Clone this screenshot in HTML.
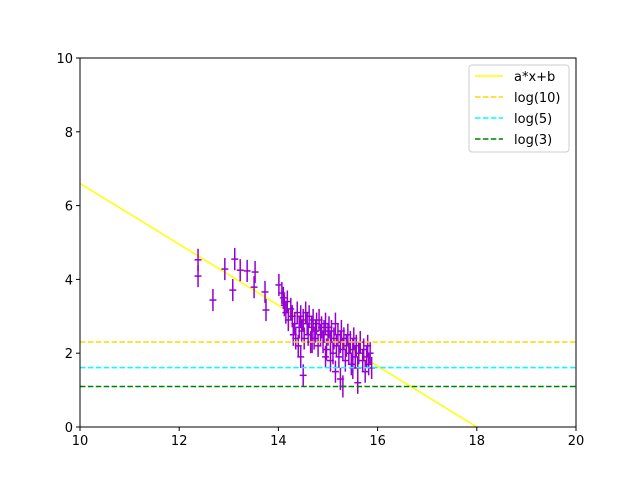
<!DOCTYPE html>
<html><head><meta charset="utf-8"><style>
body{margin:0;background:#fff;}
svg text{font-family:"DejaVu Sans","Liberation Sans",sans-serif;font-size:13px;fill:#000;}
</style></head><body>
<svg id="chart" width="640" height="480" xmlns="http://www.w3.org/2000/svg">
<rect width="640" height="480" fill="#fff"/>
<g id="plot"></g>
<g id="axes"></g>
<g id="legend"></g>
</svg>
<script>
const xTicks=[10,12,14,16,18,20];
const yTicks=[0,2,4,6,8,10];
const slopeA=-0.825, interceptB=14.85;
const hLines=[Math.log(10),Math.log(5),Math.log(3)];
const hLabels=["log(10)","log(5)","log(3)"];
const hColors=["#ffd700","#00ffff","#008000"];
const ptX=[12.38,12.38,12.68,12.92,13.12,13.08,13.23,13.37,13.53,13.51,13.73,13.75,14.01,14.07,
14.1,14.12,14.15,14.18,14.2,14.25,14.28,14.3,14.33,14.35,14.38,14.4,14.42,14.45,14.47,14.5,
14.52,14.55,14.58,14.6,14.62,14.65,14.67,14.7,14.72,14.75,14.77,14.8,14.82,14.85,14.87,14.9,
14.92,14.95,14.97,15.0,15.02,15.05,15.07,15.1,15.12,15.15,15.17,15.2,15.22,15.25,15.27,15.3,
15.32,15.35,15.37,15.4,15.42,15.45,15.47,15.5,15.52,15.55,15.57,15.6,15.62,15.65,15.7,15.72,
15.75,15.78,15.8,15.82,15.85,15.88,14.45,14.5,14.95,15.15,15.25,15.5,15.6,15.3,14.68,15.05];
const ptY=[4.53,4.09,3.44,4.28,4.55,3.71,4.25,4.23,4.2,3.79,3.66,3.17,3.85,3.63,
3.5,3.3,3.1,3.4,2.9,3.2,3.0,2.5,2.8,2.4,3.1,2.2,2.7,3.0,2.6,2.9,
2.4,3.1,2.8,2.5,3.0,2.3,2.7,2.9,2.4,2.6,2.8,2.2,2.9,2.5,2.7,2.3,
2.6,2.8,2.1,2.5,2.7,2.3,2.6,2.0,2.4,2.8,2.2,2.5,1.9,2.3,2.6,2.1,
2.4,1.8,2.2,2.5,2.0,2.3,1.7,2.1,2.4,1.9,2.2,1.6,2.0,2.3,1.8,2.1,
1.5,1.9,2.2,1.7,2.0,1.6,1.9,1.4,1.9,1.5,1.3,1.6,1.2,1.1,2.3,1.8];
const yErr=0.3, xErr=0.07;
const L=80,R=576,T=58,B=427;
const sx=v=>L+(v-10)/10*(R-L), sy=v=>B-(v/10)*(B-T);
const NS="http://www.w3.org/2000/svg";
function mk(tag,attrs,parent){const e=document.createElementNS(NS,tag);for(const k in attrs)e.setAttribute(k,attrs[k]);parent.appendChild(e);return e;}
const plot=document.getElementById('plot'),axes=document.getElementById('axes'),leg=document.getElementById('legend');
const defs=mk('clipPath',{id:'clip'},plot);mk('rect',{x:L,y:T,width:R-L,height:B-T},defs);
const cg=mk('g',{'clip-path':'url(#clip)'},plot);
const fit=mk('line',{x1:sx(10),y1:sy(slopeA*10+interceptB),x2:sx(20),y2:sy(slopeA*20+interceptB),stroke:'#ffff00','stroke-width':1.5},cg);


for(let i=0;i<ptX.length;i++){
 const g=mk('g',{stroke:'#9400d3','stroke-width':1.5},cg);
 
 
 mk('line',{x1:sx(ptX[i]),y1:sy(ptY[i]-yErr),x2:sx(ptX[i]),y2:sy(ptY[i]+yErr)},g);
 mk('line',{x1:sx(ptX[i]-xErr),y1:sy(ptY[i]),x2:sx(ptX[i]+xErr),y2:sy(ptY[i])},g);
}
for(let i=0;i<hLines.length;i++){
 const l=mk('line',{x1:L,x2:R,y1:sy(hLines[i]),y2:sy(hLines[i]),stroke:hColors[i],'stroke-width':1.5,'stroke-dasharray':'5.5,2.4'},cg);
 
 
}
const frame=mk('rect',{x:L,y:T,width:R-L,height:B-T,fill:'none',stroke:'#000','stroke-width':1},axes);


xTicks.forEach(t=>{const x=sx(t);mk('line',{x1:x,x2:x,y1:B,y2:B+4,stroke:'#000'},axes);
 const tx=mk('text',{x:x,y:B+18,'text-anchor':'middle'},axes);tx.textContent=t;
 
 });
yTicks.forEach(t=>{const y=sy(t);mk('line',{x1:L-4,x2:L,y1:y,y2:y,stroke:'#000'},axes);
 const tx=mk('text',{x:L-7,y:y+5,'text-anchor':'end'},axes);tx.textContent=t;
 
 });
const box=mk('rect',{x:469,y:65,width:100,height:87,rx:3,fill:'#fff',stroke:'#ccc'},leg);


const labs=["a*x+b"].concat(hLabels), cols=["#ffff00"].concat(hColors);
labs.forEach((s,i)=>{const y=76+i*21;
 const ln=mk('line',{x1:475,x2:503,y1:y,y2:y,stroke:cols[i],'stroke-width':1.5},leg);
 if(i>0)ln.setAttribute('stroke-dasharray','5.5,2.4');
 const tx=mk('text',{x:514,y:y+5},leg);tx.textContent=s;
 
 });
</script>
</body></html>
